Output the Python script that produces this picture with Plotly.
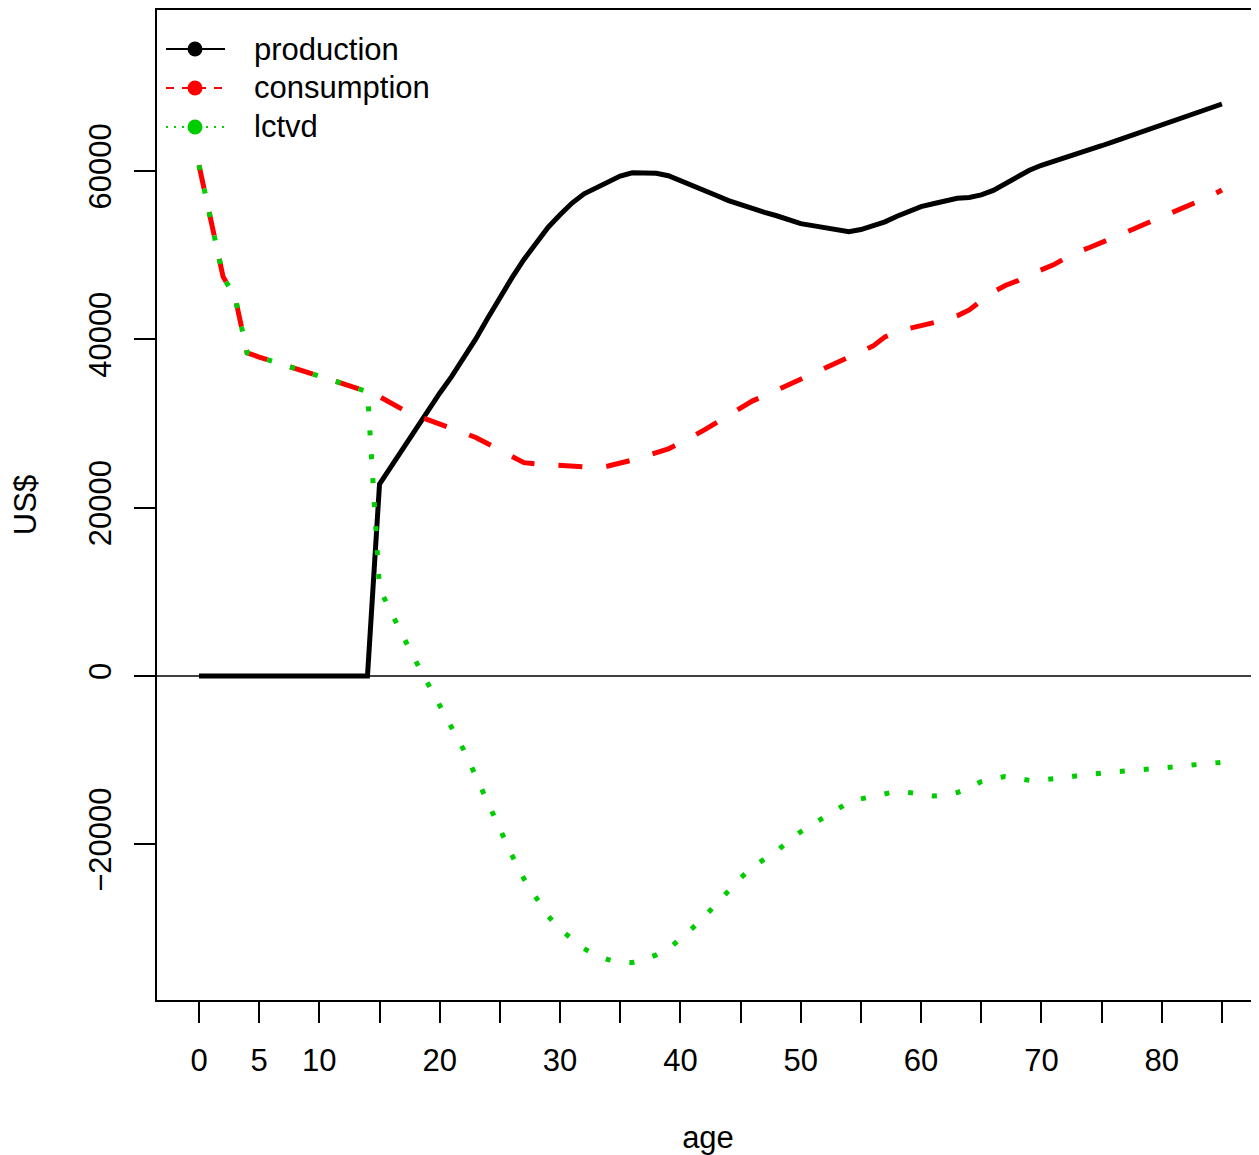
import plotly.graph_objects as go

# ---- data ----
ages = list(range(0, 86))

production = [0]*15 + [
    22800, 25000, 27200, 29400, 31500, 33600, 35600, 37750, 40050, 42550,
    45050, 47300, 49500, 51500, 53300, 54800, 56200, 57300, 58000, 58650,
    59400, 59800, 59800, 59750, 59450, 58900, 58330, 57730, 57100, 56490,
    56000, 55500, 55090, 54690, 54250, 53750, 53520, 53320, 53050, 52800,
    53050, 53500, 53970, 54640, 55220, 55770, 56120, 56450, 56770, 56870,
    57170, 57700, 58460, 59220, 60100, 60690, 61130, 61570, 62020, 62520,
    63010, 63510, 64010, 64500, 65000, 65500, 65990, 66490, 66980, 67480,
    67970]

consumption = [
    60700, 54100, 47450, 45000, 38400, 37900, 37450, 37000, 36550, 36100,
    35600, 35150, 34700, 34250, 33800, 33200, 32400, 31600, 31000, 30500,
    29950, 29500, 29000, 28350, 27600, 26800, 26050, 25350, 25200, 25100,
    24950, 24870, 24800, 24750, 24950, 25250, 25650, 26100, 26500, 26980,
    27700, 28400, 29240, 30100, 31000, 31870, 32700, 33300, 33950, 34600,
    35260, 35900, 36600, 37200, 37900, 38500, 39200, 40300, 40900, 41300,
    41600, 41900, 42300, 42800, 43500, 44600, 45650, 46400, 46950, 47670,
    48280, 48860, 49660, 50390, 50920, 51450, 52110, 52720, 53320, 53930,
    54550, 55190, 55830, 56420, 57000, 57750]

lctvd = [
    60700, 54100, 47450, 45000, 38400, 37900, 37450, 37000, 36550, 36100,
    35600, 35150, 34700, 34250, 33800, 10400, 7400, 4600, 1800, -900,
    -3600, -6200, -8800, -11900, -15100, -18300, -21300, -24100, -26400, -28500,
    -30100, -31300, -32400, -33200, -33700, -34000, -34050, -33650, -33150, -32450,
    -31250, -29950, -28600, -27000, -25500, -24000, -22700, -21800, -20800, -19600,
    -18500, -17600, -16700, -15850, -15000, -14600, -14250, -13900, -13700, -13850,
    -14100, -14250, -14150, -13850, -13300, -12550, -12150, -11950, -12150, -12400,
    -12350, -12250, -12050, -11850, -11650, -11550, -11400, -11300, -11150, -11050,
    -10950, -10800, -10650, -10500, -10400, -10250]

series_names = ["production", "consumption", "lctvd"]
series_colors = ["black", "#FF0000", "#00CD00"]

x_tickvals = [0, 5, 10, 15, 20, 25, 30, 35, 40, 45, 50, 55, 60, 65, 70, 75, 80, 85]
x_ticktext = ["0", "5", "10", "", "20", "", "30", "", "40", "", "50", "", "60", "", "70", "", "80", ""]
y_tickvals = [-20000, 0, 20000, 40000, 60000]
y_ticktext = ["\u221220000", "0", "20000", "40000", "60000"]

x_title = "age"
y_title = "US$"

# ---- figure ----
FONT = "Liberation Sans, Arial, Helvetica, sans-serif"
BODY = 8  # default page margin of the html body (top/left)
W, H = 1259 - BODY, 1155 - BODY
ML, MR, MT, MB = 157 - BODY, 0, 10 - BODY, 155
PW = W - ML - MR
PH = H - MT - MB

def px_x(p):
    return (p - BODY - ML) / PW

def px_y(p):
    return (BODY + MT + PH - p) / PH

main_dash = [None, "24px,24px", "5px,19px"]
fig = go.Figure()
for name, vals, col, dash in zip(series_names, [production, consumption, lctvd], series_colors, main_dash):
    line = dict(color=col, width=5)
    if dash:
        line["dash"] = dash
    fig.add_trace(go.Scatter(x=ages, y=vals, mode="lines", name=name, line=line,
                             showlegend=False, hoverinfo="skip"))

shapes = [dict(type="line", xref="paper", x0=0, x1=1, yref="y", y0=0, y1=0,
               line=dict(color="black", width=1.5))]
annotations = []
legend_dash = ["solid", "8px,8px", "2px,6px"]
rows = [49, 88, 127]
for name, col, dsh, ry in zip(series_names, series_colors, legend_dash, rows):
    yy = px_y(ry)
    shapes.append(dict(type="line", xref="paper", yref="paper",
                       x0=px_x(166), x1=px_x(225), y0=yy, y1=yy,
                       line=dict(color=col, width=2, dash=dsh)))
    shapes.append(dict(type="circle", xref="paper", yref="paper",
                       xsizemode="pixel", ysizemode="pixel",
                       xanchor=px_x(195), yanchor=yy,
                       x0=-7.5, x1=7.5, y0=-7.5, y1=7.5,
                       fillcolor=col, line=dict(width=0)))
    annotations.append(dict(xref="paper", yref="paper", x=px_x(252), y=yy,
                            xanchor="left", yanchor="middle", showarrow=False,
                            text=name, font=dict(family=FONT, size=31, color="black")))

fig.update_layout(
    width=W, height=H,
    margin=dict(l=ML, r=MR, t=MT, b=MB, pad=0),
    paper_bgcolor="white", plot_bgcolor="white",
    font=dict(family=FONT, size=31, color="black"),
    shapes=shapes, annotations=annotations,
    showlegend=False,
)
fig.update_xaxes(
    range=[-3.49, 88.08], tickmode="array", tickvals=x_tickvals, ticktext=x_ticktext,
    ticks="outside", ticklen=21, tickwidth=1.5, tickcolor="black",
    showline=True, linecolor="black", linewidth=1.5, mirror=True,
    showgrid=False, zeroline=False, ticklabelstandoff=11,
    tickfont=dict(family=FONT, size=31, color="black"),
    title=dict(text=x_title, standoff=52, font=dict(family=FONT, size=31, color="black")),
    automargin=False,
)
fig.update_yaxes(
    range=[-38500, 79140], tickmode="array", tickvals=y_tickvals, ticktext=y_ticktext,
    tickangle=-90, ticks="outside", ticklen=21, tickwidth=1.5, tickcolor="black",
    showline=True, linecolor="black", linewidth=1.5, mirror=False,
    showgrid=False, zeroline=False, ticklabelstandoff=11,
    tickfont=dict(family=FONT, size=31, color="black"),
    title=dict(text=y_title, standoff=39, font=dict(family=FONT, size=31, color="black")),
    automargin=False,
)

fig.write_html("out.html")
